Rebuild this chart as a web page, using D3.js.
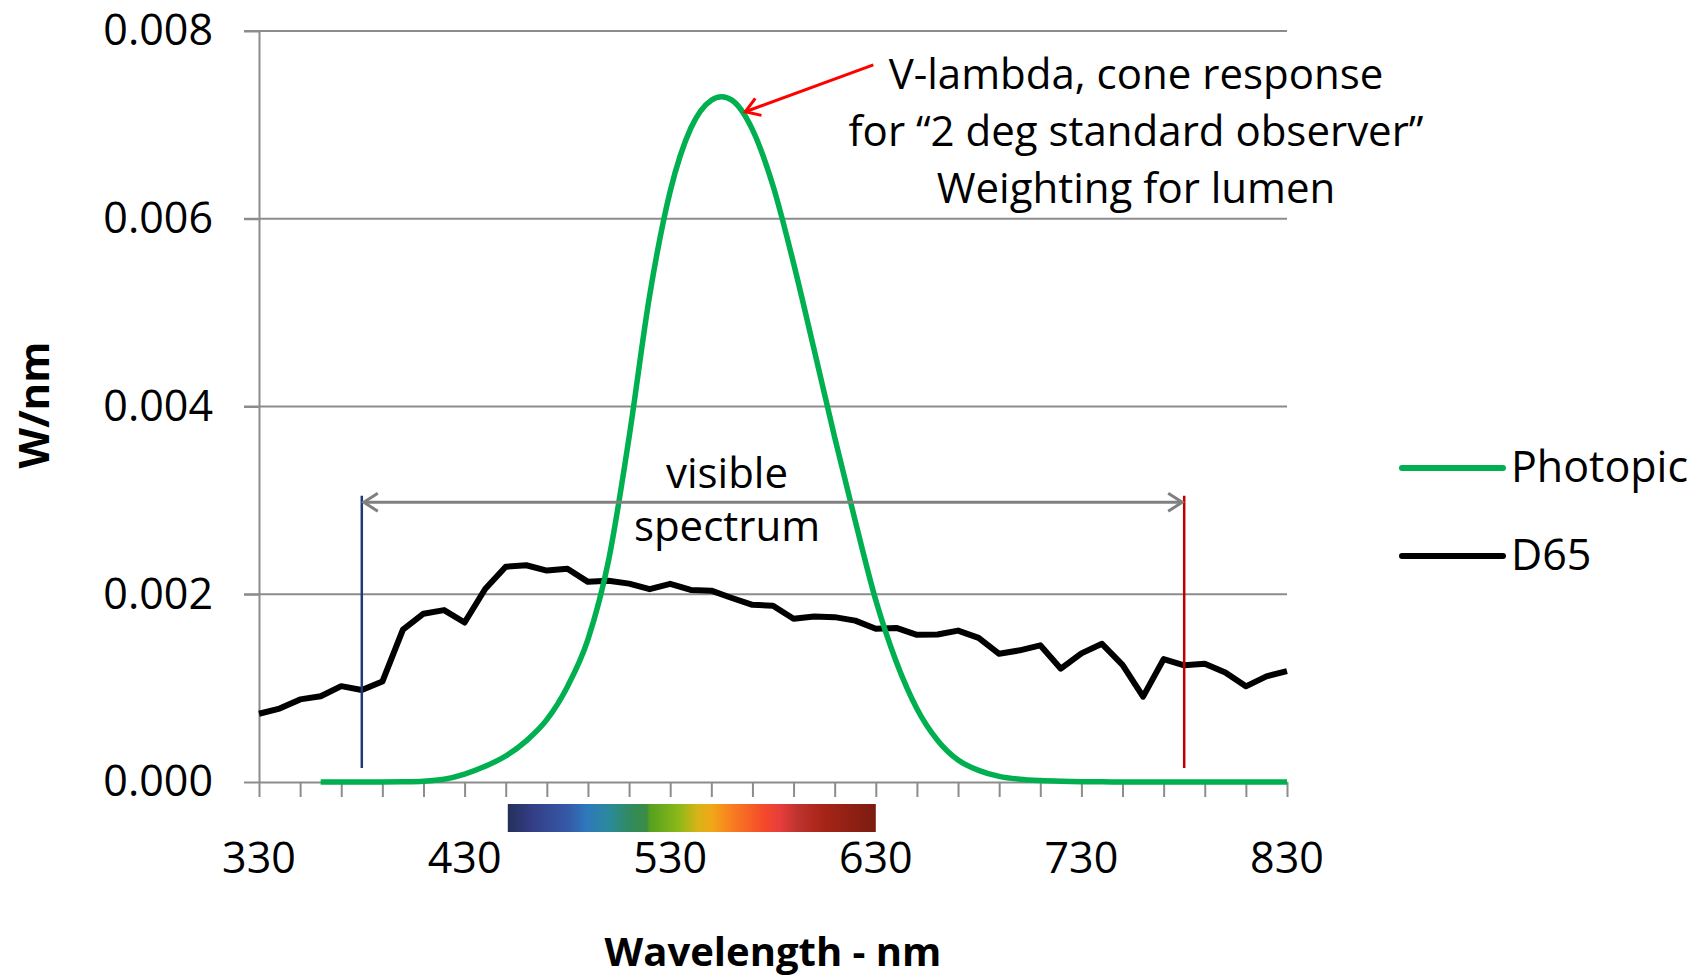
<!DOCTYPE html>
<html>
<head>
<meta charset="utf-8">
<script src="https://cdn.jsdelivr.net/npm/d3@7"></script>
<style>
  body { margin: 0; background: #fff; }
  svg text { font-family: "Open Sans", sans-serif; fill: #000; }
</style>
</head>
<body>
<div id="chart"></div>
<script>
// D65 illuminant, W/nm, every 10 nm
var d65Nm = [330, 340, 350, 360, 370, 380, 390, 400, 410, 420, 430, 440, 450, 460, 470, 480, 490, 500,
  510, 520, 530, 540, 550, 560, 570, 580, 590, 600, 610, 620, 630, 640, 650, 660, 670, 680, 690, 700,
  710, 720, 730, 740, 750, 760, 770, 780, 790, 800, 810, 820, 830];
var d65W = [0.000727, 0.000782, 0.000880, 0.000913, 0.001021, 0.000980, 0.001070, 0.001623, 0.001793,
  0.001831, 0.001699, 0.002056, 0.002293, 0.002309, 0.002252, 0.002272, 0.002132, 0.002144, 0.002113,
  0.002054, 0.002111, 0.002046, 0.002038, 0.001960, 0.001887, 0.001878, 0.001739, 0.001764, 0.001756,
  0.001719, 0.001633, 0.001641, 0.001568, 0.001572, 0.001613, 0.001535, 0.001366, 0.001403, 0.001456,
  0.001207, 0.001370, 0.001472, 0.001247, 0.000909, 0.001309, 0.001243, 0.001260, 0.001166, 0.001019,
  0.001125, 0.001182];

// Photopic (V-lambda) weighting
var photopicNm = [360, 370, 380, 390, 400, 410, 420, 430, 440, 450, 460, 470, 480, 490, 500, 510, 520,
  530, 540, 550, 555, 560, 570, 580, 590, 600, 610, 620, 630, 640, 650, 660, 670, 680, 690, 700, 710,
  720, 730, 740, 750, 760, 780, 800, 830];
var photopicW = [0, 0, 0.0000003, 0.0000009, 0.0000029, 0.0000088, 0.0000292, 0.0000847, 0.000168,
  0.000277, 0.000438, 0.000664, 0.001015, 0.001519, 0.002358, 0.003672, 0.005183, 0.006293, 0.006964,
  0.007263, 0.0073, 0.007264, 0.006950, 0.006351, 0.005526, 0.004606, 0.003672, 0.002781, 0.001935,
  0.001278, 0.000781, 0.000445, 0.000234, 0.000124, 0.0000599, 0.0000299, 0.0000153, 0.0000076,
  0.0000038, 0.0000018, 0.0000009, 0, 0, 0, 0];

var yTicks = [0, 0.002, 0.004, 0.006, 0.008];
var xLabelTicks = [330, 430, 530, 630, 730, 830];
var xMinorTicks = d3.range(330, 831, 20);

var seriesNames = ["Photopic", "D65"];
var seriesColors = ["#00b050", "#000000"];

// colour bar under the axis, 450 - 630 nm
var spectrumStops = [
  [0, "#24305a"], [0.07, "#343f88"], [0.16, "#3558a6"], [0.214, "#2f78bc"], [0.276, "#2b8a9a"],
  [0.338, "#338a5a"], [0.378, "#3a8c45"], [0.385, "#55a020"], [0.463, "#8ab818"], [0.516, "#d8b418"],
  [0.552, "#f0a818"], [0.606, "#f88020"], [0.695, "#f54a2a"], [0.739, "#e83e3c"], [0.784, "#c03430"],
  [0.855, "#a82418"], [1, "#7a1c10"]];

var width = 1694, height = 980;

var svg = d3.select("#chart").append("svg")
  .attr("width", width)
  .attr("height", height);

var x = d3.scaleLinear().domain([330, 830]).range([259, 1287]);
var y = d3.scaleLinear().domain([0, 0.008]).range([782, 31]);

var defs = svg.append("defs");

// gridlines
svg.append("g")
  .selectAll("line")
  .data(yTicks.slice(1))
  .enter()
  .append("line")
  .attr("x1", x(330) - 15)
  .attr("x2", x(830))
  .attr("y1", function(d) { return y(d); })
  .attr("y2", function(d) { return y(d); })
  .attr("stroke", "#8c8c8c")
  .attr("stroke-width", 2);

// y axis
var yAxis = svg.append("g")
  .attr("transform", "translate(" + x(330) + ",0)")
  .call(d3.axisLeft(y).tickValues(yTicks).tickFormat(d3.format(".3f")).tickSize(15).tickSizeOuter(0).tickPadding(31));
yAxis.select(".domain").attr("stroke", "#8c8c8c").attr("stroke-width", 2);
yAxis.selectAll(".tick line").attr("stroke", "#8c8c8c").attr("stroke-width", 2);
yAxis.selectAll("text").style("font-size", "43px").attr("fill", "#000");

// x axis
var xAxis = svg.append("g")
  .attr("transform", "translate(0," + y(0) + ")")
  .call(d3.axisBottom(x).tickValues(xMinorTicks).tickSize(15).tickSizeOuter(0).tickFormat(""));
xAxis.select(".domain").attr("stroke", "#8c8c8c").attr("stroke-width", 2);
xAxis.selectAll(".tick line").attr("stroke", "#8c8c8c").attr("stroke-width", 2);

svg.append("g")
  .selectAll("text")
  .data(xLabelTicks)
  .enter()
  .append("text")
  .attr("x", function(d) { return x(d); })
  .attr("y", 873)
  .attr("text-anchor", "middle")
  .style("font-size", "43px")
  .text(function(d) { return d; });

// spectrum bar
var grad = defs.append("linearGradient").attr("id", "spectrum");
grad.selectAll("stop")
  .data(spectrumStops)
  .enter()
  .append("stop")
  .attr("offset", function(d) { return d[0]; })
  .attr("stop-color", function(d) { return d[1]; });

svg.append("rect")
  .attr("x", x(451))
  .attr("y", 804)
  .attr("width", x(630) - x(451))
  .attr("height", 28)
  .attr("fill", "url(#spectrum)");

// series lines
var line = d3.line()
  .x(function(d) { return x(d[0]); })
  .y(function(d) { return y(d[1]); });

svg.append("path")
  .datum(d65Nm.map(function(n, i) { return [n, d65W[i]]; }))
  .attr("fill", "none")
  .attr("stroke", seriesColors[1])
  .attr("stroke-width", 6)
  .attr("stroke-linejoin", "round")
  .attr("d", line);

svg.append("path")
  .datum(photopicNm.map(function(n, i) { return [n, photopicW[i]]; }))
  .attr("fill", "none")
  .attr("stroke", seriesColors[0])
  .attr("stroke-width", 5.5)
  .attr("stroke-linejoin", "round")
  .attr("d", line.curve(d3.curveMonotoneX));

// visible spectrum markers
svg.append("line")
  .attr("x1", x(380)).attr("x2", x(380))
  .attr("y1", y(0.00305)).attr("y2", y(0.00015))
  .attr("stroke", "#1f3a78").attr("stroke-width", 2.5);
svg.append("line")
  .attr("x1", x(780)).attr("x2", x(780))
  .attr("y1", y(0.00305)).attr("y2", y(0.00015))
  .attr("stroke", "#c00000").attr("stroke-width", 2.5);

defs.append("marker")
  .attr("id", "grayHead")
  .attr("viewBox", "0 0 20 24")
  .attr("refX", 17).attr("refY", 12)
  .attr("markerWidth", 20).attr("markerHeight", 24)
  .attr("markerUnits", "userSpaceOnUse")
  .attr("orient", "auto-start-reverse")
  .append("path")
  .attr("d", "M3,3 L17,12 L3,21")
  .attr("fill", "none")
  .attr("stroke", "#808080")
  .attr("stroke-width", 3);

svg.append("line")
  .attr("x1", x(380) + 2).attr("x2", x(780) - 2)
  .attr("y1", y(0.00298)).attr("y2", y(0.00298))
  .attr("stroke", "#808080").attr("stroke-width", 3)
  .attr("marker-start", "url(#grayHead)")
  .attr("marker-end", "url(#grayHead)");

svg.append("text").attr("x", 727).attr("y", 488).attr("text-anchor", "middle")
  .style("font-size", "42px").text("visible");
svg.append("text").attr("x", 727).attr("y", 541).attr("text-anchor", "middle")
  .style("font-size", "42px").text("spectrum");

// V-lambda note
defs.append("marker")
  .attr("id", "redHead")
  .attr("viewBox", "0 0 20 24")
  .attr("refX", 17).attr("refY", 12)
  .attr("markerWidth", 20).attr("markerHeight", 24)
  .attr("markerUnits", "userSpaceOnUse")
  .attr("orient", "auto")
  .append("path")
  .attr("d", "M3,3 L17,12 L3,21")
  .attr("fill", "none")
  .attr("stroke", "#ff0000")
  .attr("stroke-width", 3);

svg.append("line")
  .attr("x1", x(628.8)).attr("y1", y(0.00764))
  .attr("x2", x(566.5)).attr("y2", y(0.00714))
  .attr("stroke", "#ff0000").attr("stroke-width", 3)
  .attr("marker-end", "url(#redHead)");

var noteLines = ["V-lambda, cone response", "for \u201c2 deg standard observer\u201d", "Weighting for lumen"];
svg.append("g")
  .selectAll("text")
  .data(noteLines)
  .enter()
  .append("text")
  .attr("x", 1136)
  .attr("y", function(d, i) { return 89 + i * 57; })
  .attr("text-anchor", "middle")
  .style("font-size", "42px")
  .text(function(d) { return d; });

// legend
var legend = svg.append("g")
  .selectAll("g")
  .data(seriesNames)
  .enter()
  .append("g")
  .attr("transform", function(d, i) { return "translate(1402," + (468 + i * 88) + ")"; });

legend.append("line")
  .attr("x1", 0).attr("x2", 101)
  .attr("stroke", function(d, i) { return seriesColors[i]; })
  .attr("stroke-width", 6)
  .attr("stroke-linecap", "round");

legend.append("text")
  .attr("x", 109)
  .attr("y", 14)
  .style("font-size", "43px")
  .text(function(d) { return d; });

// axis titles
svg.append("text")
  .attr("x", 773)
  .attr("y", 966)
  .attr("text-anchor", "middle")
  .style("font-size", "40px")
  .style("font-weight", "bold")
  .text("Wavelength - nm");

svg.append("text")
  .attr("transform", "translate(49,405) rotate(-90)")
  .attr("text-anchor", "middle")
  .style("font-size", "42px")
  .style("font-weight", "bold")
  .text("W/nm");
</script>
</body>
</html>
